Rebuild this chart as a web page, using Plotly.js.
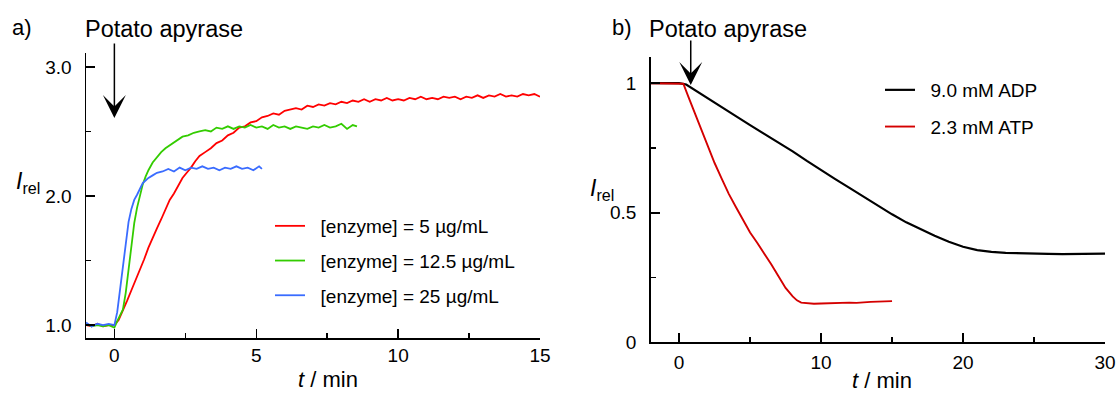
<!DOCTYPE html>
<html>
<head>
<meta charset="utf-8">
<script src="https://cdn.plot.ly/plotly-3.0.1.min.js"></script>
<style>html,body{margin:0;padding:0;background:#fff;}#chart{width:1118px;height:393px;}</style>
</head>
<body>
<div id="chart"></div>
<script>
// ---------- Panel a) : enzyme concentration series ----------
const legendA = ['[enzyme] = 5 µg/mL', '[enzyme] = 12.5 µg/mL', '[enzyme] = 25 µg/mL'];

const t5 = [-1,-0.8,-0.6,-0.4,-0.2,0,0.15,0.3,0.45,0.6,0.75,0.9,1.05,1.2,1.35,1.5,1.65,1.8,1.95,2.1,2.25,2.4,2.55,2.7,2.85,3,
  3.2,3.4,3.6,3.8,4,4.2,4.4,4.6,4.8,5,5.2,5.4,5.6,5.8,6,6.2,6.4,6.6,6.8,7,7.2,7.4,7.6,7.8,8,8.2,8.4,8.6,8.8,9,
  9.2,9.4,9.6,9.8,10,10.2,10.4,10.6,10.8,11,11.2,11.4,11.6,11.8,12,12.2,12.4,12.6,12.8,13,13.2,13.4,13.6,13.8,14,14.2,14.4,14.6,14.8,15];
const I5 = [1.00,0.99,1.01,0.99,1.00,1.00,1.04,1.11,1.19,1.27,1.35,1.42,1.51,1.60,1.68,1.75,1.82,1.89,1.97,2.02,2.08,2.14,2.18,2.22,2.27,2.31,
  2.34,2.37,2.41,2.43,2.47,2.49,2.53,2.54,2.57,2.58,2.61,2.62,2.64,2.63,2.66,2.67,2.68,2.67,2.70,2.69,2.71,2.70,2.72,2.71,2.73,2.72,2.74,2.73,2.75,2.73,
  2.75,2.74,2.76,2.74,2.75,2.74,2.76,2.75,2.77,2.75,2.76,2.75,2.77,2.76,2.77,2.75,2.77,2.76,2.78,2.76,2.78,2.77,2.79,2.77,2.78,2.77,2.79,2.78,2.79,2.77];

const t12 = [-1,-0.8,-0.6,-0.4,-0.2,0,0.1,0.2,0.3,0.4,0.5,0.6,0.7,0.8,0.9,1.0,1.1,1.2,1.35,1.5,1.65,1.8,2.0,2.2,2.4,2.6,2.8,3.0,
  3.2,3.4,3.6,3.8,4.0,4.2,4.4,4.6,4.8,5.0,5.2,5.4,5.6,5.8,6.0,6.2,6.4,6.6,6.8,7.0,7.2,7.4,7.6,7.8,8.0,8.2,8.4,8.55];
const I12 = [1.01,0.99,1.00,0.99,1.00,0.98,1.03,1.07,1.12,1.25,1.42,1.63,1.79,1.91,2.01,2.09,2.15,2.20,2.26,2.30,2.34,2.37,2.40,2.43,2.46,2.47,2.49,2.50,
  2.51,2.50,2.53,2.52,2.54,2.52,2.54,2.53,2.55,2.53,2.54,2.52,2.55,2.53,2.54,2.52,2.54,2.53,2.52,2.54,2.53,2.55,2.53,2.54,2.56,2.52,2.55,2.54];

const t25 = [-1,-0.8,-0.6,-0.4,-0.2,0,0.1,0.2,0.3,0.4,0.5,0.6,0.7,0.8,0.9,1.0,1.1,1.2,1.35,1.5,1.7,1.9,2.1,2.3,2.5,2.7,2.9,
  3.1,3.3,3.5,3.7,3.9,4.1,4.3,4.5,4.7,4.9,5.1,5.2];
const I25 = [1.02,0.99,1.01,1.00,1.01,1.00,1.10,1.27,1.46,1.64,1.80,1.90,1.97,2.01,2.06,2.10,2.12,2.14,2.16,2.18,2.19,2.21,2.19,2.22,2.20,2.22,2.21,
  2.23,2.21,2.22,2.20,2.22,2.21,2.23,2.21,2.22,2.20,2.23,2.21];

// ---------- Panel b) : nucleotide series ----------
const legendB = ['9.0 mM ADP', '2.3 mM ATP'];

const tADP = [-2,-1.5,-1,-0.5,0,0.5,1,2,3,4,5,6,7,8,9,10,11,12,13,14,15,16,17,18,19,20,21,22,23,24,25,26,27,28,29,30];
const IADP = [1.00,1.00,1.00,1.00,1.00,0.995,0.978,0.943,0.908,0.873,0.838,0.805,0.772,0.737,0.700,0.664,0.630,0.596,0.561,0.527,0.494,0.463,0.436,0.411,0.388,0.369,0.356,0.349,0.345,0.343,0.342,0.341,0.340,0.341,0.340,0.342];

const tATP = [-2,-1,0,0.3,0.65,1,1.5,2,2.5,3,3.5,4,4.5,5,5.5,6,6.5,7,7.5,8,8.3,8.6,9,9.5,10,10.5,11,11.5,12,12.5,13,13.5,14,14.5,15];
const IATP = [1.00,1.00,1.00,0.998,0.948,0.90,0.826,0.757,0.692,0.632,0.573,0.522,0.472,0.424,0.384,0.344,0.300,0.255,0.210,0.177,0.162,0.153,0.150,0.149,0.150,0.151,0.150,0.152,0.153,0.152,0.155,0.156,0.157,0.158,0.159];

const FONT = 'Liberation Sans, Arial, Helvetica, sans-serif';
const W = 1118, H = 393;
const px = v => v / W;
const py = v => 1 - v / H;
const sp = '&nbsp;&nbsp;';

const traces = [
  {x: t5, y: I5, name: sp + legendA[0], xaxis: 'x', yaxis: 'y', legend: 'legend', legendgroup: 'a1', mode: 'lines', line: {color: '#ff0000', width: 1.8}},
  {x: t12, y: I12, name: sp + legendA[1], xaxis: 'x', yaxis: 'y', legend: 'legend', legendgroup: 'a2', mode: 'lines', line: {color: '#33cc00', width: 1.8}},
  {x: t25, y: I25, name: sp + legendA[2], xaxis: 'x', yaxis: 'y', legend: 'legend', legendgroup: 'a3', mode: 'lines', line: {color: '#3a6cff', width: 1.8}},
  {x: tADP, y: IADP, name: sp + legendB[0], xaxis: 'x2', yaxis: 'y2', legend: 'legend2', legendgroup: 'b1', mode: 'lines', line: {color: '#000000', width: 2.2}},
  {x: tATP, y: IATP, name: sp + legendB[1], xaxis: 'x2', yaxis: 'y2', legend: 'legend2', legendgroup: 'b2', mode: 'lines', line: {color: '#d40000', width: 1.9}}
];

const axBase = {
  showgrid: false, zeroline: false, showline: true, linecolor: '#000', linewidth: 1.5,
  ticks: 'inside', ticklen: 9, tickwidth: 1.5, tickcolor: '#000',
  tickfont: {family: FONT, size: 19, color: '#000'},
  fixedrange: true
};

const layout = {
  width: W, height: H,
  margin: {l: 0, r: 0, t: 0, b: 0},
  paper_bgcolor: '#fff', plot_bgcolor: '#fff',
  showlegend: true,
  font: {family: FONT, color: '#000'},
  xaxis: Object.assign({}, axBase, {
    domain: [px(86), px(540)], range: [-1, 15], anchor: 'y',
    tick0: 0, dtick: 5, ticklabelstandoff: 0,
    minor: {dtick: 2.5, tick0: 0, ticks: 'inside', ticklen: 5, tickwidth: 1.5, tickcolor: '#000', showgrid: false}
  }),
  yaxis: Object.assign({}, axBase, {
    domain: [py(338), py(53)], range: [0.9, 3.108], anchor: 'x',
    tick0: 1, dtick: 1, tickformat: '.1f', ticklabelstandoff: 9,
    minor: {dtick: 0.5, tick0: 1, ticks: 'inside', ticklen: 5, tickwidth: 1.5, tickcolor: '#000', showgrid: false}
  }),
  xaxis2: Object.assign({}, axBase, {
    domain: [px(650.7), px(1105)], range: [-2, 30], anchor: 'y2',
    tick0: 0, dtick: 10, ticklabelstandoff: 2,
    minor: {dtick: 5, tick0: 0, ticks: 'inside', ticklen: 5, tickwidth: 1.5, tickcolor: '#000', showgrid: false}
  }),
  yaxis2: Object.assign({}, axBase, {
    domain: [py(342.3), py(57.3)], range: [0, 1.1], anchor: 'x2',
    tick0: 0, dtick: 0.5, ticklabelstandoff: 9,
    minor: {dtick: 0.25, tick0: 0, ticks: 'inside', ticklen: 5, tickwidth: 1.5, tickcolor: '#000', showgrid: false}
  }),
  legend: {
    x: px(270), y: py(207), xanchor: 'left', yanchor: 'top',
    bgcolor: 'rgba(0,0,0,0)', borderwidth: 0, tracegroupgap: 7,
    font: {family: FONT, size: 19, color: '#000'}
  },
  legend2: {
    x: px(880), y: py(71), xanchor: 'left', yanchor: 'top',
    bgcolor: 'rgba(0,0,0,0)', borderwidth: 0, tracegroupgap: 9,
    font: {family: FONT, size: 19, color: '#000'}
  },
  annotations: [
    {text: 'a)', x: px(22), y: py(27), xref: 'paper', yref: 'paper', showarrow: false, xanchor: 'center', yanchor: 'middle', font: {family: FONT, size: 22}},
    {text: 'b)', x: px(622), y: py(27), xref: 'paper', yref: 'paper', showarrow: false, xanchor: 'center', yanchor: 'middle', font: {family: FONT, size: 22}},
    {text: 'Potato apyrase', x: px(164), y: py(29), xref: 'paper', yref: 'paper', showarrow: false, xanchor: 'center', yanchor: 'middle', font: {family: FONT, size: 23.5}},
    {text: 'Potato apyrase', x: px(728), y: py(29), xref: 'paper', yref: 'paper', showarrow: false, xanchor: 'center', yanchor: 'middle', font: {family: FONT, size: 23.5}},
    {text: '', x: 0, xref: 'x', y: py(118), yref: 'paper', ax: 0, ay: -76, axref: 'pixel', ayref: 'pixel', showarrow: true, arrowhead: 3, arrowsize: 2.55, arrowwidth: 1.5, arrowcolor: '#000'},
    {text: '', x: 0.82, xref: 'x2', y: py(85), yref: 'paper', ax: 0, ay: -46, axref: 'pixel', ayref: 'pixel', showarrow: true, arrowhead: 3, arrowsize: 2.55, arrowwidth: 1.5, arrowcolor: '#000'},
    {text: '<i>I</i><sub>rel</sub>', x: px(28), y: py(182), xref: 'paper', yref: 'paper', showarrow: false, xanchor: 'center', yanchor: 'middle', font: {family: FONT, size: 23}},
    {text: '<i>I</i><sub>rel</sub>', x: px(602), y: py(189), xref: 'paper', yref: 'paper', showarrow: false, xanchor: 'center', yanchor: 'middle', font: {family: FONT, size: 23}},
    {text: '<i>t</i> / min', x: px(328), y: py(379), xref: 'paper', yref: 'paper', showarrow: false, xanchor: 'center', yanchor: 'middle', font: {family: FONT, size: 22}},
    {text: '<i>t</i> / min', x: px(882), y: py(380), xref: 'paper', yref: 'paper', showarrow: false, xanchor: 'center', yanchor: 'middle', font: {family: FONT, size: 22}}
  ]
};

Plotly.newPlot('chart', traces, layout, {displayModeBar: false, staticPlot: true});
</script>
</body>
</html>
